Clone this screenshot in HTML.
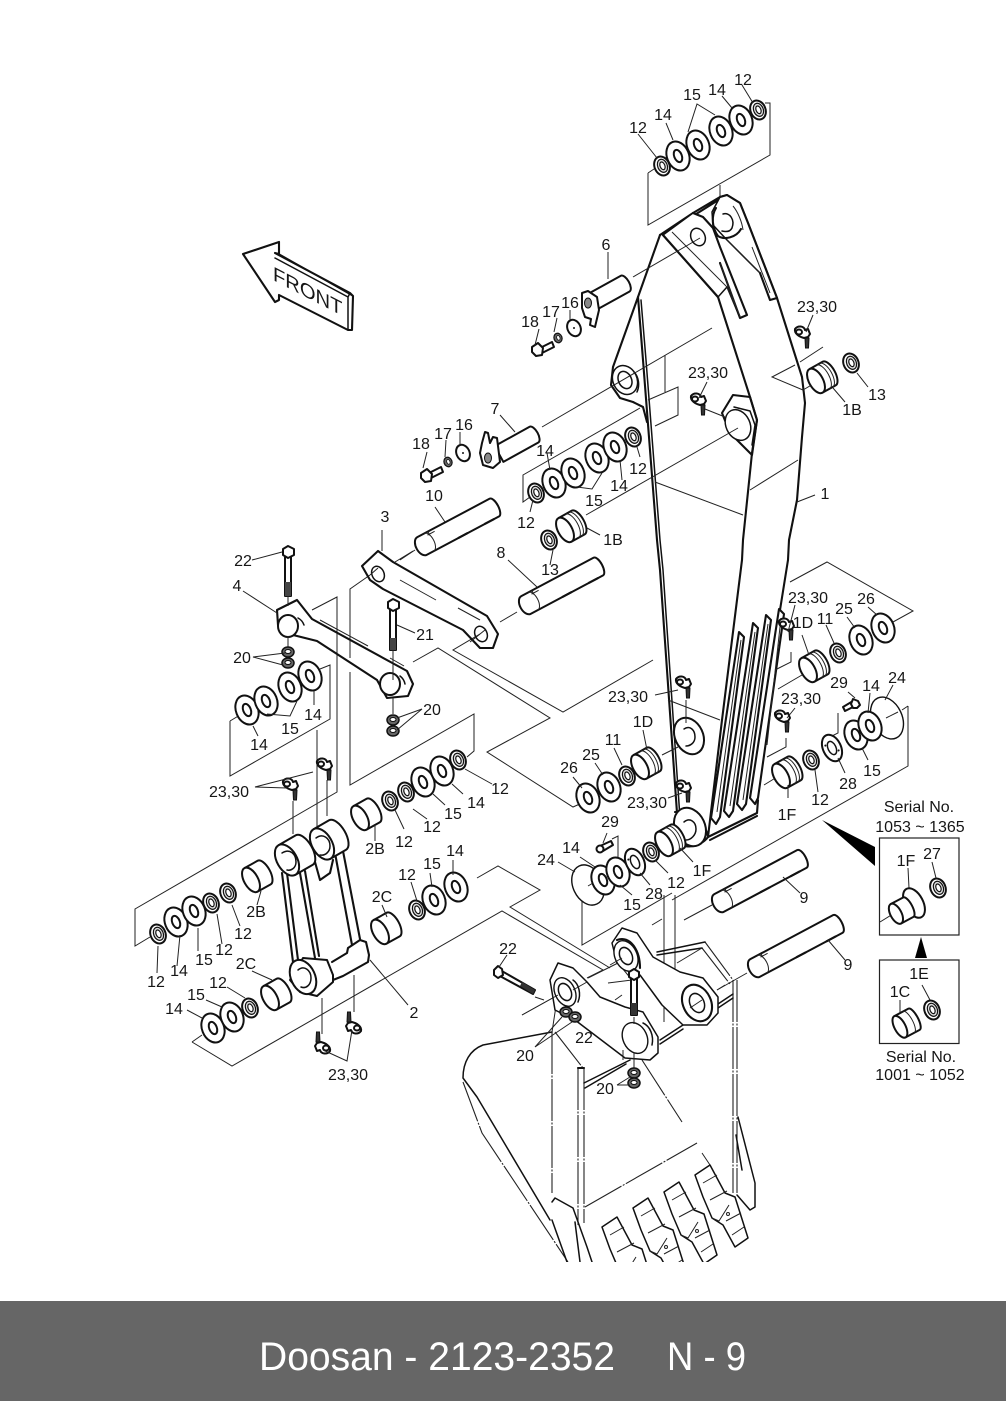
<!DOCTYPE html>
<html><head><meta charset="utf-8"><title>Doosan 2123-2352</title>
<style>
html,body{margin:0;padding:0;background:#fff}
svg{display:block}
text{font-family:"Liberation Sans",sans-serif;font-size:16px;fill:#161616;text-anchor:middle}
.t{fill:none;stroke:#222;stroke-width:1}
.m{fill:none;stroke:#111;stroke-width:1.5;stroke-linejoin:round;stroke-linecap:round}
.k{fill:none;stroke:#111;stroke-width:2.1;stroke-linejoin:round;stroke-linecap:round}
.f{fill:#fff;stroke:#111;stroke-width:2;stroke-linejoin:round}
.h{fill:#fff;stroke:#111;stroke-width:1.4;stroke-linejoin:round}
.d{fill:none;stroke:#222;stroke-width:1.1;stroke-dasharray:42 1.5 2 1.5}
</style></head><body>
<svg width="1006" height="1401" viewBox="0 0 1006 1401" xmlns="http://www.w3.org/2000/svg">
<defs>
<g id="w"><g transform="rotate(-22)"><ellipse class="f" rx="11" ry="15"/><ellipse class="f" rx="3.800" ry="6.400"/></g></g>
<g id="s"><g transform="rotate(-22)"><ellipse class="f" rx="7.500" ry="9.800"/><ellipse cx=".5" fill="#ddd" stroke="#111" stroke-width="1.200" rx="4.800" ry="6.800"/><ellipse cx=".5" fill="#fff" stroke="#111" stroke-width="1.200" rx="2.400" ry="4"/></g></g>
<g id="b"><g transform="rotate(-29)"><path class="f" d="M-8-13.500H7A6 13.500 0 0 1 7 13.500H-8Z"/><ellipse class="f" cx="-8" rx="7" ry="13.500"/></g></g>
<g id="g"><g transform="rotate(-29)"><path class="f" d="M-8-13.500H7A6 13.500 0 0 1 7 13.500H-8Z"/><ellipse class="f" cx="-8" rx="7" ry="13.500"/><path class="t" d="M0-13.500A6 13.500 0 0 1 0 13.500M3.500-13.500A6 13.500 0 0 1 3.500 13.500"/></g></g>
<g id="p"><g transform="rotate(-28)"><path class="f" d="M0-10H94A4 10 0 0 1 94 10H0A6 10 0 0 1 0-10Z" stroke-width="2"/><path class="t" d="M8-10A5 10 0 0 1 8 10M12-10V-5M10-7H18"/><path class="k" d="M42 10H52M76 10H86"/></g></g>
<g id="p2"><g transform="rotate(-28)"><path class="f" d="M0-10H82A4 10 0 0 1 82 10H0A6 10 0 0 1 0-10Z" stroke-width="2"/><path class="t" d="M8-10A5 10 0 0 1 8 10M12-10V-5M10-7H18"/><path class="k" d="M36 10H46M66 10H76"/></g></g>
<g id="n"><path class="f" stroke-width="1.500" d="M-8-9C-5-13 1-12 2-8L5-9 7-4 5-1 1 0C-3-1-9-4-8-9Z"/><ellipse class="f" stroke-width="1.300" cx="-4" cy="-6" rx="3" ry="2.500"/><path fill="#333" stroke="#111" d="M2 0H6L5.500 10H2.500Z"/></g>
<g id="u"><ellipse cx="0" cy="0" rx="6" ry="5" fill="#666" stroke="#111" stroke-width="1.500"/><ellipse cx="0" cy="-.5" rx="3" ry="2" fill="#fff" stroke="#111"/></g>
<g id="o"><path class="m" style="fill:#fff" d="M0 0 15-10 30 18 40 22 53 63 40 72 28 50 17 43 8 22Z"/><path class="t" d="M8 8 22 0M15 25 32 16M31 46 46 38M37 60 49 52M17 43 24 46 34 30"/><circle cx="33" cy="39" r="1.500" class="t"/></g>
<clipPath id="c"><rect x="440" y="900" width="340" height="362"/></clipPath>
</defs>

<!-- bottom band -->
<rect x="0" y="1301" width="1006" height="100" fill="#666"/>
<text x="259" y="1370" style="font-size:40px;fill:#fff;text-anchor:start" textLength="356" lengthAdjust="spacingAndGlyphs">Doosan - 2123-2352</text>
<text x="667" y="1370" style="font-size:40px;fill:#fff;text-anchor:start" textLength="79" lengthAdjust="spacingAndGlyphs">N - 9</text>

<!-- FRONT arrow -->
<path class="k" d="M243 254 279 242V254L275 253 350 293 353 296 352 330 348 330 279 295V300L275 302Z" fill="#fff"/>
<path class="m" d="M279 254 353 296M348 297V330M350 293 348 297 275 258"/>
<text transform="matrix(.89 .46 0 1 273 280)" style="text-anchor:start;font-size:20px" textLength="78" lengthAdjust="spacingAndGlyphs">FRONT</text>

<!-- boom -->
<path class="k" d="M720 197 727 195 740 203 748 223 777 298 802 377 805 403 802 437 797 500 789 540 788 560 780 610"/>
<path class="k" d="M660 235 693 213 720 197M665 233 693 216 720 199"/>
<path class="k" d="M660 235 638 297 643 360 657 540 660 570 677 813"/>
<path class="m" d="M641 300 646 360 660 540 663 570 680 818"/>
<path class="k" d="M663 235 718 297 750 397 757 420 752 453 743 540 742 560 722 720 708 837"/>
<path class="k" d="M638 297 613 367 611 385 620 398 633 402 643 407 647 422"/>
<ellipse class="m" style="fill:#fff" cx="625" cy="380" rx="12" ry="15" transform="rotate(-25 625 380)"/>
<path class="m" d="M634 372A11 15 0 0 1 637 392"/>
<ellipse class="m" cx="625" cy="380" rx="6.500" ry="9" transform="rotate(-25 625 380)"/>
<!-- head lugs -->
<path class="m" style="fill:#fff" d="M663 235 693 213 703 217 713 228 720 247 747 315 740 318 727 287 718 297Z"/>
<path class="k" d="M693 213 703 217 713 228 720 247 747 315 740 318 720 263"/>
<path class="k" d="M663 235 718 297"/>
<path class="t" d="M672 232 727 287 740 316M720 263 740 317"/>
<ellipse class="m" cx="698" cy="237" rx="7" ry="9" transform="rotate(-25 698 237)"/>
<path class="m" style="fill:#fff" d="M720 197 727 195 740 203 748 223 777 298 770 300 760 273 727 240 713 225 712 212Z"/>
<path class="k" d="M720 197 727 195 740 203 748 223 777 298 770 300 760 273"/>
<path class="k" d="M716 208C711 216 712 228 718 236 724 240 736 238 741 229"/>
<path class="m" d="M723 214C730 212 735 220 732 228 730 232 726 232 722 231"/>
<path class="t" d="M727 240 760 273M752 247 770 293M733 206C738 212 742 222 743 230"/>
<path class="k" d="M722 413 733 395 750 397 757 420 752 455 730 433Z"/>
<ellipse class="m" style="fill:#fff" cx="738" cy="425" rx="12" ry="16" transform="rotate(-25 738 425)"/>
<path class="m" d="M734 407 750 411 755 425 752 445"/>

<!-- lower boom ribs -->
<path class="k" d="M739 632 744 637 720 817 716 824 711 818Z" fill="#fff"/>
<path class="k" d="M753 623 758 628 733 811 729 817 724 811Z" fill="#fff"/>
<path class="k" d="M766 615 771 620 746 804 742 810 737 804Z" fill="#fff"/>
<path class="k" d="M779 609 784 614 758 798 755 804 750 798Z" fill="#fff"/>
<path class="t" d="M741 640 717 812M755 632 730 806M768 624 743 800M781 618 767 745"/>
<path class="k" d="M708 837 757 813 758 800M710 840 757 816"/>
<ellipse class="f" cx="689" cy="736" rx="14" ry="19" transform="rotate(-25 689 736)"/>
<path class="m" d="M684 729C690 725 695 730 695 737 695 743 690 746 686 746"/>
<path class="k" d="M675 812C690 810 707 825 708 837 700 848 680 850 675 840"/>
<ellipse class="f" cx="690" cy="827" rx="15" ry="20" transform="rotate(-25 690 827)"/>
<path class="m" d="M684 822C690 817 696 822 696 829 696 835 691 840 686 840"/>

<!-- long leaders -->
<path class="t" d="M648 173V225L770 155V103H765M648 173 657 167M720 185V197M633 277 700 238M542 427 712 328M665 355V392M648 400 678 387V415L655 426M640 408 523 475V502L530 497M586 515 738 428M750 490 798 460M655 482 743 515M823 347 800 362M795 365 772 377 803 390M803 390 820 380M705 409 725 417"/>
<path class="t" d="M395 562 413 551M382 530V551M500 622 517 612M400 560 415 550M370 575 350 589V658M350 672V785L474 714V751L467 757M480 634 453 650 563 712 653 660M413 662 438 648 550 718 487 752 573 807 582 803"/>
<path class="t" d="M312 610 337 597V792L135 909V946L150 937M230 721 245 712M230 721V776L330 719V665L320 669M317 730V841"/>
<path class="t" d="M790 582 827 562 913 611 893 622M668 700 720 720M662 755 678 747M686 700V723M778 689 802 675M775 670 791 662V652M764 785 777 777M767 757 786 747V738M838 713V733L830 737M908 706 902 710M908 706V766L672 900"/>
<path class="t" d="M612 839 618 836V858M582 900V945L672 893M664 895V1022M675 895V1013L683 1008M684 920 712 905M717 990 747 973"/>
<path class="t" d="M192 1042 232 1066 502 911 603 970 587 978M192 1042 202 1035M477 878 498 866 540 890 510 907 610 968"/>

<!-- left link 3 -->
<path class="k" d="M362 566 378 551 393 562 487 616 498 634 493 648 480 648 463 630 383 589 370 580Z" fill="#fff"/>
<ellipse class="m" cx="378" cy="574" rx="6" ry="8" transform="rotate(-25 378 574)"/>
<ellipse class="m" cx="481" cy="634" rx="6" ry="8" transform="rotate(-25 481 634)"/>
<path class="t" d="M400 580 436 600M458 608 480 620M370 575 378 568M470 642 485 630"/>
<!-- link 4 -->
<path class="k" d="M277 610 297 600 312 619 407 671 413 684 408 696 387 698 377 680 317 641 293 635 278 625Z" fill="#fff"/>
<ellipse class="f" cx="288" cy="626" rx="10" ry="11" />
<path class="m" d="M298 618 A12 13 0 0 1 304 625 301 632 294 635"/>
<ellipse class="f" cx="390" cy="684" rx="10" ry="11"/>
<path class="m" d="M400 676 A12 13 0 0 1 405 684 402 692 395 695"/>
<path class="t" d="M320 620 368 646M390 658 404 666"/>
<!-- bolts -->
<path class="f" d="M285 556H291V596H285Z" stroke-width="1.500"/><path fill="#444" d="M285 582H291V596H285Z"/><path class="f" d="M283 549 288 546 294 549V555L288 558 283 555Z" stroke-width="1.500"/>
<path class="f" d="M390 609H396V650H390Z" stroke-width="1.500"/><path fill="#444" d="M390 638H396V650H390Z"/><path class="f" d="M388 602 393 599 399 602V608L393 611 388 608Z" stroke-width="1.500"/>
<path class="t" d="M288 596V606M288 636V647M393 650V680M393 698V714"/>
<use href="#u" transform="translate(288 652)"/><use href="#u" transform="translate(288 663)"/>
<use href="#u" transform="translate(393 720)"/><use href="#u" transform="translate(393 731)"/>
<use href="#w" transform="translate(247 710)"/><use href="#w" transform="translate(266 701)"/><use href="#w" transform="translate(290 687)"/><use href="#w" transform="translate(310 676)"/>

<!-- frame 2 -->
<path class="k" d="M315 862 320 880 330 873 333 860"/>
<path class="k" d="M282 873 293 962M287 873 298 960M300 873 315 958M305 871 319 956M335 853 352 945M343 851 360 939"/>
<g transform="translate(322 844) rotate(-30)"><path class="f" d="M0-17H18A8 17 0 0 1 18 17H0Z"/><ellipse class="f" rx="10" ry="17"/></g>
<path class="m" d="M316 838C323 833 330 838 330 846 330 852 325 856 320 855"/>
<g transform="translate(287 860) rotate(-30)"><path class="f" d="M0-17H20A8 17 0 0 1 20 17H0Z"/><ellipse class="f" rx="10" ry="17"/></g>
<path class="m" d="M282 853C290 848 296 854 296 862 296 868 291 871 287 870"/>
<path class="k" d="M332 962 347 953 348 948 360 940 366 942 369 955 368 962 343 976 333 980"/>
<path class="f" d="M303 958 327 960 333 975 333 982 317 996 300 992 290 980Z"/>
<ellipse class="f" cx="303" cy="977" rx="12" ry="18" transform="rotate(-25 303 977)"/>
<path class="m" d="M298 970C304 965 311 970 311 978 311 985 306 989 301 987"/>
<path class="t" d="M322 998V1034M354 975V1012M293 801V834M327 780V816"/>
<use href="#n" transform="translate(291 790)"/><use href="#n" transform="translate(325 770)"/>
<use href="#n" transform="translate(322 1042) rotate(180)"/><use href="#n" transform="translate(353 1022) rotate(180)"/>

<!-- bushings & washers left -->
<use href="#b" transform="translate(367 814)"/><use href="#s" transform="translate(390 801)"/><use href="#s" transform="translate(406 792)"/><use href="#w" transform="translate(423 782)"/><use href="#w" transform="translate(442 771)"/><use href="#s" transform="translate(458 760)"/>
<use href="#s" transform="translate(158 934)"/><use href="#w" transform="translate(176 922)"/><use href="#w" transform="translate(194 911)"/><use href="#s" transform="translate(211 903)"/><use href="#s" transform="translate(228 893)"/><use href="#b" transform="translate(258 876)"/>
<use href="#w" transform="translate(213 1028)"/><use href="#w" transform="translate(232 1017)"/><use href="#s" transform="translate(250 1008)"/><use href="#b" transform="translate(277 994)"/>
<use href="#b" transform="translate(387 928)"/><use href="#s" transform="translate(417 910)"/><use href="#w" transform="translate(434 900)"/><use href="#w" transform="translate(456 887)"/>

<!-- top washers -->
<use href="#s" transform="translate(758 110)"/><use href="#w" transform="translate(741 120)"/><use href="#w" transform="translate(721 131)"/><use href="#w" transform="translate(698 145)"/><use href="#w" transform="translate(678 156)"/><use href="#s" transform="translate(662 166)"/>
<!-- pin 6 -->
<g transform="translate(592 302) rotate(-29)"><path class="f" d="M0-9H38A4 9 0 0 1 38 9H0Z"/></g>
<path class="f" d="M582 293 588 291 597 297 599 310 595 327 590 325 591 319 585 317 582 308Z"/>
<ellipse cx="588" cy="303" rx="3.500" ry="5" fill="#888" stroke="#111"/>
<g transform="translate(574 328) rotate(-25)"><ellipse class="f" rx="6.500" ry="8.500"/><circle r="1" fill="#111"/></g>
<use href="#u" transform="translate(558 338) rotate(70) scale(.8)"/>
<path class="f" d="M540 348 552 342 554 347 542 353Z" stroke-width="1"/><path class="f" d="M532 347 538 343 543 348 542 355 536 356 532 352Z" stroke-width="1.500"/>
<!-- pin 7 -->
<g transform="translate(499 454) rotate(-29)"><path class="f" d="M0-9H40A4 9 0 0 1 40 9H0Z"/></g>
<path class="f" d="M482 443 485 432 488 433 490 443 493 437 497 438 500 462 493 468 483 465 480 453Z"/>
<ellipse cx="488" cy="458" rx="3.500" ry="5" fill="#888" stroke="#111"/>
<g transform="translate(463 453) rotate(-25)"><ellipse class="f" rx="6.500" ry="8.500"/><circle r="1" fill="#111"/></g>
<use href="#u" transform="translate(448 462) rotate(70) scale(.8)"/>
<path class="f" d="M429 473 441 467 443 472 431 478Z" stroke-width="1"/><path class="f" d="M421 473 427 469 432 474 431 481 425 482 421 478Z" stroke-width="1.500"/>
<!-- pins -->
<use href="#p2" transform="translate(422 546)"/>
<use href="#p2" transform="translate(526 605)"/>
<use href="#p" transform="translate(719 903)"/>
<use href="#p" transform="translate(755 968)"/>
<!-- mid washers -->
<use href="#s" transform="translate(536 493)"/><use href="#w" transform="translate(554 483)"/><use href="#w" transform="translate(573 473)"/><use href="#w" transform="translate(597 458)"/><use href="#w" transform="translate(615 447)"/><use href="#s" transform="translate(633 437)"/>
<use href="#g" transform="translate(572 526)"/><use href="#s" transform="translate(549 540)"/>
<use href="#g" transform="translate(823 377)"/><use href="#s" transform="translate(851 363)"/>
<use href="#n" transform="translate(803 338)"/><use href="#n" transform="translate(699 405)"/>
<!-- right group -->
<use href="#g" transform="translate(815 666)"/><use href="#s" transform="translate(838 653)"/><use href="#w" transform="translate(861 640)"/><use href="#w" transform="translate(883 628)"/>
<use href="#n" transform="translate(787 630)"/><use href="#n" transform="translate(783 722)"/><use href="#n" transform="translate(684 688)"/><use href="#n" transform="translate(684 792)"/>
<use href="#g" transform="translate(647 763)"/><use href="#s" transform="translate(627 776)"/><use href="#w" transform="translate(609 787)"/><use href="#w" transform="translate(588 798)"/>
<use href="#g" transform="translate(788 772)"/><use href="#s" transform="translate(811 760)"/>
<g transform="translate(832 748) rotate(-25)"><ellipse class="f" rx="9" ry="14"/><ellipse class="m" rx="4" ry="7"/><circle cx="-5" cy="-5" r="1" fill="#111"/><circle cx="5" cy="5" r="1" fill="#111"/></g>
<ellipse cx="887" cy="718" rx="15" ry="22" transform="rotate(-25 887 718)" class="h"/>
<use href="#w" transform="translate(856 735)"/>
<use href="#w" transform="translate(870 726)"/>
<path class="t" d="M886 718 898 712"/>
<path class="f" d="M843 707 853 701 855 706 845 711Z" stroke-width="1"/><path class="f" d="M853 699 858 701 860 705 857 708 853 708 851 704Z" stroke-width="1.300"/>
<!-- left lower group -->
<ellipse cx="588" cy="885" rx="15" ry="21" transform="rotate(-25 588 885)" class="h"/>
<path class="t" d="M588 886 598 880"/>
<use href="#w" transform="translate(603 880)"/><use href="#w" transform="translate(618 872)"/>
<g transform="translate(635 862) rotate(-25)"><ellipse class="f" rx="9" ry="14"/><ellipse class="m" rx="4" ry="7"/><circle cx="-5" cy="-5" r="1" fill="#111"/></g>
<use href="#s" transform="translate(651 852)"/><use href="#g" transform="translate(671 840)"/>
<path class="f" d="M600 846 611 841 613 845 603 851Z" stroke-width="1"/><circle cx="600" cy="849" r="3.500" class="f" stroke-width="1.300"/>

<!-- bucket -->
<g clip-path="url(#c)">
<path class="m" d="M552 1032 483 1045C470 1050 463 1062 463 1078L477 1097 550 1220"/>
<path class="d" d="M463 1082 482 1133 568 1262M552 1032V1193M555 1032 583 1068M578 1068V1225M584 1068V1223M733 980V1193M737 980V1193M705 942 733 980M702 948 730 984"/>
<path class="k" d="M578 1068H584"/>
<path class="m" d="M657 952 705 942M657 955 702 948M584 1083 630 1060M585 1088 626 1064M660 1040 683 1025M660 1044 683 1029M718 1008 733 998M718 1004 733 994"/>
<path class="d" d="M642 1060 682 1122M585 1207 697 1143"/>
<path class="t" d="M702 1153 710 1165M702 948 677 963M522 1015 558 995M558 993 552 1032M608 983 632 980 618 963M643 977 657 974 680 1003M583 1010 593 1008 603 1018M615 1000 622 995M597 1028 625 1007M588 978 618 963"/>
<path class="m" d="M738 1117 755 1183V1207L750 1210 737 1195M736 1135 742 1170"/>
<path class="m" d="M552 1202 555 1198 573 1208 587 1247 592 1262M552 1220 567 1262M575 1222 580 1262"/>
<use href="#o" transform="translate(695 1175)"/><use href="#o" transform="translate(664 1192)"/><use href="#o" transform="translate(633 1208)"/><use href="#o" transform="translate(602 1227)"/>
<!-- right lug -->
<path class="m" style="fill:#fff" d="M612 943 622 928 637 933 653 957 680 972 703 978 718 997V1013L707 1025H683L662 1005 640 975 617 963Z"/>
<ellipse class="h" cx="626" cy="956" rx="11" ry="16" transform="rotate(-25 626 956)"/>
<ellipse class="m" cx="626" cy="956" rx="6" ry="9" transform="rotate(-25 626 956)"/>
<path class="k" d="M617 940C630 935 640 950 640 968"/>
<ellipse class="k" cx="697" cy="1003" rx="14" ry="19" transform="rotate(-25 697 1003)" style="fill:#fff"/>
<ellipse class="m" cx="697" cy="1003" rx="7" ry="10" transform="rotate(-25 697 1003)"/>
<path class="t" d="M652 925 662 919M610 965 622 958M690 1008 702 1000M717 990 725 985"/>
<!-- left lug -->
<path class="m" style="fill:#fff" d="M550 980 558 963 573 968 587 982 600 997 625 1007 643 1012 658 1037V1053L650 1060 625 1058 575 1020 555 1010Z"/>
<ellipse class="h" cx="565" cy="992" rx="10" ry="15" transform="rotate(-25 565 992)"/>
<ellipse class="m" cx="565" cy="992" rx="6" ry="9" transform="rotate(-25 565 992)"/>
<path class="m" d="M573 980A12 16 0 0 1 578 1002"/>
<ellipse class="h" cx="635" cy="1038" rx="12" ry="16" transform="rotate(-25 635 1038)"/>
<path class="m" d="M643 1023A14 18 0 0 1 652 1045"/>
<path class="t" d="M623 1050V1060"/>
<path class="t" d="M522 1015 558 995M587 982 573 990M535 997 544 1000"/>
<!-- bolts -->
<path class="f" d="M500 970 535 990 533 994 498 975Z" stroke-width="1.300"/><path fill="#333" d="M522 982 535 990 533 994 520 986Z"/><path class="f" d="M494 970 498 966 502 969 503 975 498 978 494 975Z" stroke-width="1.500"/>
<path class="f" d="M631 978H637V1015H631Z" stroke-width="1.300"/><path fill="#333" d="M631 1003H637V1015H631Z"/><path class="f" d="M629 972 634 969 639 972V977L634 980 629 977Z" stroke-width="1.500"/>
<path class="t" d="M634 1017V1024M634 1053V1068"/>
<use href="#u" transform="translate(634 1073)"/><use href="#u" transform="translate(634 1083)"/>
<use href="#u" transform="translate(566 1012)"/><use href="#u" transform="translate(575 1017)"/>
</g>

<!-- insets -->
<path fill="#000" d="M822 820 875 847V866Z"/><path fill="#000" d="M921 937 915 958H927Z"/>
<rect x="879.500" y="838" width="79.500" height="97" fill="none" stroke="#222" stroke-width="1.200"/>
<rect x="879.500" y="960" width="79.500" height="83.500" fill="none" stroke="#222" stroke-width="1.200"/>
<path class="t" d="M880 922 893 914M932 862 936 878M908 868 909 888M900 1000V1017M922 985 930 1000"/>
<g transform="translate(914 903) rotate(-28)"><ellipse class="f" rx="9" ry="16"/></g>
<g transform="translate(903 910) rotate(-28)"><path class="f" d="M-8-11H6A4 11 0 0 1 6 11H-8Z"/><ellipse class="f" cx="-8" rx="5.500" ry="11"/></g>
<use href="#s" transform="translate(938 888)"/>
<g transform="translate(907 1023) rotate(-28)"><path class="f" d="M-8-12H8A4 12 0 0 1 8 12H-8Z"/><ellipse class="f" cx="-8" rx="5.500" ry="12"/><path class="t" d="M2-12A4 12 0 0 1 2 12"/></g>
<use href="#s" transform="translate(932 1010)"/>

<!-- label leaders -->
<path class="t" d="M742 85 753 103M722 96 732 108M715 115 697 104 688 132M666 123 673 140M638 134 657 158M608 252V279M570 310V320M557 318 554 332M539 329 535 345M813 315 806 332M707 382 699 398M833 388 845 402M857 373 868 387M797 502 815 495M500 415 515 432M460 432V445M446 440 445 457M427 452 423 468M547 453 550 470M637 447 640 457M620 460 622 480M577 487 592 489 602 473M533 500 530 512M587 528 600 535M553 550 550 565M435 507 445 522M508 560 537 587"/>
<path class="t" d="M252 560 282 552M243 591 277 613M397 625 415 633M285 653 253 657 283 665M397 718 422 709 397 730M314 691V705M253 726 258 736M267 714 290 716 297 701M287 788 255 787 313 772M465 769 492 784M452 784 463 794M433 794 445 805M413 809 427 819M395 810 404 829M375 825V841M158 946 157 973M180 935 177 966M198 928V951M217 914 222 944M232 905 240 926M261 891 257 905M252 971 272 980M227 987 245 998M206 1000 222 1007M187 1010 202 1018M382 905 387 917M411 882 417 901M430 873 432 887M453 860V875M370 960 408 1005M323 1050 347 1061 352 1030"/>
<path class="t" d="M573 777 582 788M595 763 603 775M614 748 622 765M643 730 647 750M655 695 678 690M668 798 682 793M795 605 788 632M802 635 809 655M826 625 834 643M847 617 855 628M868 607 877 615M795 708 787 718M848 692 855 698M870 693 868 713M893 685 885 700M868 760 862 748M845 773 838 758M818 792 815 770M788 798V785M693 862 680 848M668 873 655 860M650 885 640 873M580 857 595 867M558 862 575 872M607 833 603 843M632 895 620 885M783 877 800 893M828 940 845 960M507 955 499 967M562 1017 535 1047 572 1022M617 1085 630 1077M617 1085H630"/>

<!-- labels -->
<text x="743" y="85">12</text><text x="717" y="95">14</text><text x="692" y="100">15</text><text x="663" y="120">14</text><text x="638" y="133">12</text>
<text x="606" y="250">6</text><text x="570" y="308">16</text><text x="551" y="317">17</text><text x="530" y="327">18</text>
<text x="817" y="312">23,30</text><text x="877" y="400">13</text><text x="852" y="415">1B</text><text x="708" y="378">23,30</text>
<text x="495" y="414">7</text><text x="464" y="430">16</text><text x="443" y="439">17</text><text x="421" y="449">18</text>
<text x="545" y="456">14</text><text x="638" y="474">12</text><text x="619" y="491">14</text><text x="594" y="506">15</text><text x="825" y="499">1</text>
<text x="434" y="501">10</text><text x="526" y="528">12</text><text x="385" y="522">3</text><text x="613" y="545">1B</text><text x="501" y="558">8</text><text x="550" y="575">13</text>
<text x="243" y="566">22</text><text x="237" y="591">4</text><text x="425" y="640">21</text><text x="242" y="663">20</text><text x="432" y="715">20</text>
<text x="313" y="720">14</text><text x="259" y="750">14</text><text x="290" y="734">15</text><text x="229" y="797">23,30</text>
<text x="500" y="794">12</text><text x="476" y="808">14</text><text x="453" y="819">15</text><text x="432" y="832">12</text><text x="404" y="847">12</text><text x="375" y="854">2B</text>
<text x="808" y="603">23,30</text><text x="866" y="604">26</text><text x="844" y="614">25</text><text x="825" y="624">11</text><text x="803" y="628">1D</text>
<text x="839" y="688">29</text><text x="871" y="691">14</text><text x="897" y="683">24</text><text x="801" y="704">23,30</text><text x="628" y="702">23,30</text>
<text x="643" y="727">1D</text><text x="613" y="745">11</text><text x="591" y="760">25</text><text x="569" y="773">26</text>
<text x="872" y="776">15</text><text x="848" y="789">28</text><text x="820" y="805">12</text><text x="787" y="820">1F</text><text x="647" y="808">23,30</text>
<text x="610" y="827">29</text><text x="571" y="853">14</text><text x="546" y="865">24</text><text x="702" y="876">1F</text><text x="676" y="888">12</text><text x="654" y="899">28</text><text x="632" y="910">15</text>
<text x="804" y="903">9</text><text x="848" y="970">9</text>
<text x="455" y="856">14</text><text x="432" y="869">15</text><text x="407" y="880">12</text><text x="382" y="902">2C</text><text x="256" y="917">2B</text>
<text x="243" y="939">12</text><text x="224" y="955">12</text><text x="204" y="965">15</text><text x="179" y="976">14</text><text x="156" y="987">12</text>
<text x="246" y="969">2C</text><text x="218" y="988">12</text><text x="196" y="1000">15</text><text x="174" y="1014">14</text><text x="414" y="1018">2</text><text x="348" y="1080">23,30</text>
<text x="508" y="954">22</text><text x="584" y="1043">22</text><text x="525" y="1061">20</text><text x="605" y="1094">20</text>
<text x="919" y="812">Serial No.</text><text x="920" y="832">1053 ~ 1365</text>
<text x="906" y="866">1F</text><text x="932" y="859">27</text><text x="919" y="979">1E</text><text x="900" y="997">1C</text>
<text x="921" y="1062">Serial No.</text><text x="920" y="1080">1001 ~ 1052</text>
</svg>
</body></html>
